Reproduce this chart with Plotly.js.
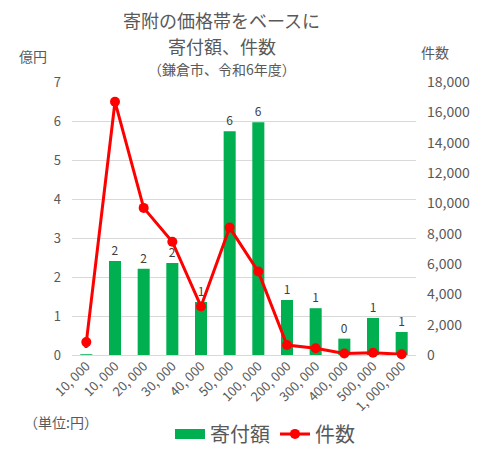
<!DOCTYPE html>
<html>
<head>
<meta charset="utf-8">
<script src="https://cdn.plot.ly/plotly-3.0.1.min.js"></script>
<style>html,body{margin:0;padding:0;background:#fff;}#chart{width:480px;height:462px;}</style>
</head>
<body>
<div id="chart"></div>
<script>
const categories = ["10, 000", "10, 000", "20, 000", "30, 000", "40, 000", "50, 000", "100, 000", "200, 000", "300, 000", "400, 000", "500, 000", "1, 000, 000"];
const amounts = [0.02, 2.41, 2.21, 2.36, 1.36, 5.74, 5.97, 1.41, 1.20, 0.42, 0.95, 0.59];
const counts = [850, 16700, 9700, 7470, 3200, 8400, 5500, 660, 440, 100, 150, 50];
const positions = categories.map((c, i) => i);
const font = "'Noto Sans CJK JP', 'Noto Sans', sans-serif";
const green = '#00B050';
const red = '#FF0000';

const bar = {
  type: 'bar', name: '寄付額', x: positions, y: amounts, showlegend: false,
  marker: {color: green}, width: 0.42,
  text: amounts.map(v => String(Math.round(v))), textposition: 'outside',
  textfont: {size: 12, color: '#404040', family: font}, cliponaxis: false
};
const barLegend = {
  type: 'scatter', mode: 'lines', name: '寄付額', x: [null], y: [null],
  line: {color: green, width: 12}, showlegend: true
};
const line = {
  type: 'scatter', mode: 'lines+markers', name: '件数', x: positions, y: counts,
  yaxis: 'y2', line: {color: red, width: 3}, marker: {color: red, size: 10},
  cliponaxis: false
};

const layout = {
  width: 480, height: 462,
  margin: {l: 72, r: 64, t: 82, b: 107, autoexpand: false},
  paper_bgcolor: '#fff', plot_bgcolor: '#fff',
  font: {family: font, color: '#595959', size: 12},
  showlegend: true,
  xaxis: {
    range: [-0.5, 11.5], tickvals: positions, ticktext: categories, tickangle: -45,
    showgrid: false, zeroline: false, showline: false, ticks: '',
    tickfont: {size: 13, color: '#595959'}, automargin: false
  },
  yaxis: {
    range: [0, 7], dtick: 1, gridcolor: '#d9d9d9', zeroline: true, zerolinecolor: '#d9d9d9',
    showline: false, ticks: '', tickfont: {size: 13, color: '#595959'}, ticklabelstandoff: 10,
    automargin: false
  },
  yaxis2: {
    overlaying: 'y', side: 'right', range: [0, 18000], dtick: 2000, tickformat: ',',
    showgrid: false, zeroline: false, showline: false, ticks: '',
    tickfont: {size: 14, color: '#595959'}, ticklabelstandoff: 10, automargin: false
  },
  legend: {
    orientation: 'h', x: 0.561, xanchor: 'center', y: -0.289, yanchor: 'middle',
    font: {size: 20, color: '#595959'}, itemwidth: 30, tracegroupgap: 0,
    traceorder: 'normal'
  },
  annotations: [
    {text: '寄附の価格帯をベースに', xref: 'paper', yref: 'paper', x: 0.436, y: 1.227, xanchor: 'center', yanchor: 'middle', showarrow: false, borderpad: 0, font: {size: 18, color: '#595959'}},
    {text: '寄付額、件数', xref: 'paper', yref: 'paper', x: 0.436, y: 1.132, xanchor: 'center', yanchor: 'middle', showarrow: false, borderpad: 0, font: {size: 18, color: '#595959'}},
    {text: '（鎌倉市、令和6年度）', xref: 'paper', yref: 'paper', x: 0.436, y: 1.046, xanchor: 'center', yanchor: 'middle', showarrow: false, borderpad: 0, font: {size: 14, color: '#595959'}},
    {text: '億円', xref: 'paper', yref: 'paper', x: -0.113, y: 1.095, xanchor: 'center', yanchor: 'middle', showarrow: false, font: {size: 14, color: '#595959'}},
    {text: '件数', xref: 'paper', yref: 'paper', x: 1.055, y: 1.11, xanchor: 'center', yanchor: 'middle', showarrow: false, font: {size: 14, color: '#595959'}},
    {text: '（単位:円）', xref: 'paper', yref: 'paper', x: -0.032, y: -0.245, xanchor: 'center', yanchor: 'middle', showarrow: false, font: {size: 14, color: '#595959'}}
  ]
};

Plotly.newPlot('chart', [bar, barLegend, line], layout, {displayModeBar: false, staticPlot: true});
</script>
</body>
</html>
